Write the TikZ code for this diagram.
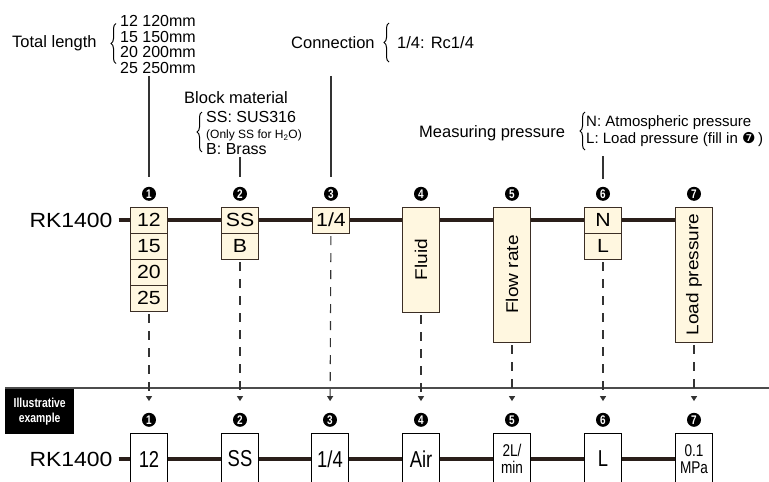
\documentclass[tikz,border=0pt]{standalone}
\usepackage{graphicx}
\usepackage{fontspec}
\setmainfont{Liberation Sans}
\newfontfamily\widefont[FakeStretch=1.12]{Liberation Sans}
\newfontfamily\condfont[FakeStretch=0.8]{Liberation Sans}
\newfontfamily\dingfont{DejaVu Sans}
\usetikzlibrary{positioning,decorations.pathreplacing,backgrounds,arrows.meta}

\definecolor{cream}{HTML}{FFF7E0}
\definecolor{boxline}{HTML}{3B2E25}
\definecolor{pipe}{HTML}{2A1F1A}
\definecolor{guide}{HTML}{333333}

\tikzset{
  cell/.style={draw=boxline, fill=cream, line width=0.9pt, outer sep=0pt,
    minimum width=37pt, minimum height=26pt, inner sep=0pt,
    font=\widefont\fontsize{19}{19}\selectfont},
  tallcell/.style={cell, minimum height=#1, font=\widefont\fontsize{17}{17}\selectfont},
  excell/.style={draw=black, fill=white, line width=0.9pt, outer sep=0pt,
    minimum width=37pt, minimum height=52pt, inner sep=0pt, align=center,
    font=\condfont\fontsize{23}{23}\selectfont},
  twoline/.style={font=\condfont\fontsize{17}{17}\selectfont},
  num/.style={circle, fill=black, text=white, inner sep=0pt, minimum size=14pt,
    font=\condfont\bfseries\fontsize{12.5}{12.5}\selectfont},
  rk/.style={inner sep=0pt, outer xsep=6pt, font=\widefont\fontsize{20.5}{20.5}\selectfont},
  pipeline/.style={draw=pipe, line width=3.5pt},
  note/.style={inner sep=0pt, font=\fontsize{16.5}{17}\selectfont},
  notelist/.style={inner sep=0pt, align=left, font=\fontsize{16}{15.7}\selectfont},
  lead/.style={draw=guide, line width=1.1pt},
  guideline/.style={draw=guide, line width=1.1pt, dash pattern=on 9pt off 8pt,
    -{Triangle[length=5pt,width=6pt]}},
  curly/.style={draw=black, line width=1pt, decorate, decoration={brace, amplitude=5pt}},
  sepline/.style={draw=black!70, line width=1.2pt},
  tag/.style={fill=black, text=white, align=center, minimum width=69pt,
    minimum height=46pt, inner sep=0pt, font=\condfont\bfseries\fontsize{13}{15}\selectfont}
}

\begin{document}
\begin{tikzpicture}[x=1pt,y=1pt]
  \useasboundingbox (0,0) rectangle (769,-482);
  \clip (0,0) rectangle (769,-482);

  \node[cell, anchor=north] (b1a) at (149,-207) {12};
  \node[cell, below=0pt of b1a] (b1b) {15};
  \node[cell, below=0pt of b1b] (b1c) {20};
  \node[cell, below=0pt of b1c] (b1d) {25};
  \node[cell, right=54pt of b1a] (b2a) {SS};
  \node[cell, below=0pt of b2a] (b2b) {B};
  \node[cell, right=54pt of b2a] (b3a) {1/4};
  \node[tallcell=105pt, right=53pt of b3a.north east, anchor=north west] (b4) {\rotatebox{90}{Fluid}};
  \node[tallcell=135pt, right=54pt of b4.north east, anchor=north west] (b5) {\rotatebox{90}{Flow rate}};
  \node[cell, right=54pt of b5.north east, anchor=north west] (b6a) {N};
  \node[cell, below=0pt of b6a] (b6b) {L};
  \node[tallcell=135pt, right=54pt of b6a.north east, anchor=north west] (b7) {\rotatebox{90}{Load pressure}};
  \node[rk, left=12pt of b1a] (rk) {RK1400};

  \node[num, above=6pt of b1a] (n1) {1};
  \node[num, above=6pt of b2a] (n2) {2};
  \node[num, above=6pt of b3a] (n3) {3};
  \node[num, above=6pt of b4]  (n4) {4};
  \node[num, above=6pt of b5]  (n5) {5};
  \node[num, above=6pt of b6a] (n6) {6};
  \node[num, above=6pt of b7]  (n7) {7};

  \node[note, anchor=west] (lenlbl) at (12,-43) {Total length};
  \node[notelist, anchor=west] (lenlist) at (120,-44.5) {12 120mm\\15 150mm\\20 200mm\\25 250mm};
  \node[note, anchor=west] (conlbl) at (291,-43) {Connection};
  \node[note, anchor=west] (conlist) at (397,-43) {1/4: Rc1/4};
  \node[note, anchor=west] (matlbl) at (184,-98) {Block material};
  \node[notelist, anchor=west, font=\fontsize{16}{16}\selectfont] (matlist) at (206,-133)
    {SS: SUS316\\{\fontsize{12}{16}\selectfont (Only SS for H\textsubscript{2}O)}\\B: Brass};
  \node[note, anchor=west] (preslbl) at (419,-133) {Measuring pressure};
  \node[notelist, anchor=west, font=\fontsize{15}{17}\selectfont] (preslist) at (586,-131.5)
    {N: Atmospheric pressure\\L: Load pressure (fill in {\dingfont ❼}\,)};

  \draw[curly] ([xshift=-4pt,yshift=-19pt]lenlist.west) -- ([xshift=-4pt,yshift=21pt]lenlist.west);
  \draw[curly] ([xshift=-8pt,yshift=-19pt]conlist.west) -- ([xshift=-8pt,yshift=20pt]conlist.west);
  \draw[curly] ([xshift=-4pt,yshift=-19pt]matlist.west) -- ([xshift=-4pt,yshift=21pt]matlist.west);
  \draw[curly] ([xshift=-1pt,yshift=-18.5pt]preslist.west) -- ([xshift=-1pt,yshift=19.5pt]preslist.west);

  \draw[lead, shorten <=2pt, shorten >=10pt] (n1 |- lenlist.south) -- (n1);
  \draw[lead, shorten <=2pt, shorten >=10pt] (n3 |- lenlist.south) -- (n3);
  \draw[lead, shorten <=2pt, shorten >=10pt] (n2 |- matlist.south) -- (n2);
  \draw[lead, shorten <=9pt, shorten >=8pt] (n6 |- preslist.south) -- (n6);

  \node[tag, anchor=north west] (tag) at (5,-388) {Illustrative\\example};
  \coordinate (sepend) at (769,-388);
  \draw[sepline] (tag.north west) -- (sepend);

  \node[excell, anchor=north] (e1) at (149,-433) {12};
  \node[excell, right=54pt of e1] (e2) {SS};
  \node[excell, right=53pt of e2] (e3) {1/4};
  \node[excell, right=54pt of e3] (e4) {Air};
  \node[excell, twoline, right=54pt of e4] (e5) {2L/\\min};
  \node[excell, right=54pt of e5] (e6) {L};
  \node[excell, twoline, right=54pt of e6] (e7) {0.1\\MPa};
  \node[rk, left=12pt of e1] (rk2) {RK1400};

  \node[num, above=6pt of e1] (m1) {1};
  \node[num, above=6pt of e2] (m2) {2};
  \node[num, above=6pt of e3] (m3) {3};
  \node[num, above=6pt of e4] (m4) {4};
  \node[num, above=6pt of e5] (m5) {5};
  \node[num, above=6pt of e6] (m6) {6};
  \node[num, above=6pt of e7] (m7) {7};

  \draw[guideline, shorten <=3pt, shorten >=11.5pt] (b1d) -- (m1);
  \draw[guideline, shorten <=3pt, shorten >=11.5pt] (b2b) -- (m2);
  \draw[guideline, shorten <=3pt, shorten >=11.5pt] (b3a) -- (m3);
  \draw[guideline, shorten <=3pt, shorten >=11.5pt] (b4) -- (m4);
  \draw[guideline, shorten <=3pt, shorten >=11.5pt] (b5) -- (m5);
  \draw[guideline, shorten <=3pt, shorten >=11.5pt] (b6b) -- (m6);
  \draw[guideline, shorten <=3pt, shorten >=11.5pt] (b7) -- (m7);

  \begin{scope}[on background layer]
    \draw[pipeline] (rk.east) -- (b7.west |- rk.east);
    \draw[pipeline] (rk2.east) -- (e7.west);
  \end{scope}
\end{tikzpicture}
\end{document}
